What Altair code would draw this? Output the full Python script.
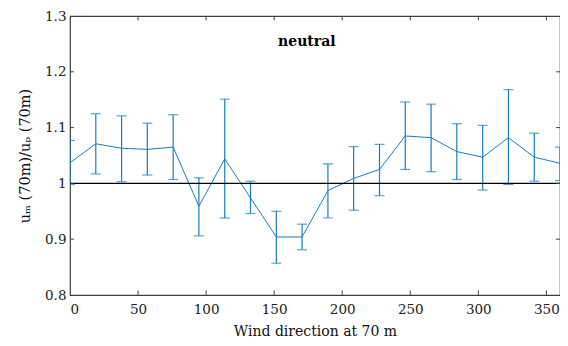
import altair as alt
import pandas as pd

direction = [0, 18.95, 37.9, 56.8, 75.8, 94.7, 113.7, 132.6, 151.6, 170.5,
             189.5, 208.4, 227.4, 246.3, 265.3, 284.2, 303.2, 322.1, 341.1, 360]
ratio = [1.037, 1.071, 1.063, 1.061, 1.065, 0.959, 1.044, 0.974, 0.904, 0.904,
         0.987, 1.009, 1.025, 1.085, 1.082, 1.057, 1.047, 1.082, 1.047, 1.036]
upper = [1.077, 1.125, 1.121, 1.108, 1.123, 1.010, 1.151, 1.004, 0.950, 0.927,
         1.035, 1.066, 1.070, 1.146, 1.142, 1.107, 1.104, 1.168, 1.090, 1.065]
lower = [0.998, 1.017, 1.003, 1.015, 1.007, 0.906, 0.938, 0.946, 0.857, 0.881,
         0.938, 0.952, 0.978, 1.025, 1.021, 1.007, 0.988, 0.998, 1.004, 1.005]
x_ticks = [0, 50, 100, 150, 200, 250, 300, 350]
y_ticks = [0.8, 0.9, 1.0, 1.1, 1.2, 1.3]

df = pd.DataFrame({"dir": direction, "r": ratio, "hi": upper, "lo": lower})

FONT = "DejaVu Serif, Liberation Serif, serif"
BLUE = "#1a7cc4"
AX = "#404040"

xs = alt.Scale(domain=[0, 360], nice=False, zero=False)
ys = alt.Scale(domain=[0.8, 1.3], nice=False, zero=False)

x_enc = alt.X("dir:Q", scale=xs, axis=alt.Axis(
    title="Wind direction at 70 m", values=x_ticks, grid=False, ticks=False,
    domain=False, labelPadding=7, titlePadding=9, format="d"))
y_enc = alt.Y("r:Q", scale=ys, axis=alt.Axis(
    title="uₘ (70m)/uₚ (70m)", values=y_ticks, grid=False, ticks=False,
    domain=False, labelPadding=4, titlePadding=12, titleFontSize=14.5,
    labelExpr="format(datum.value, '.2~f')"))

base = alt.Chart(df)

line = base.mark_line(color=BLUE, strokeWidth=1, clip=True).encode(x=x_enc, y=y_enc)
bars = base.mark_rule(color=BLUE, strokeWidth=1.2, clip=True).encode(
    x="dir:Q", y=alt.Y("lo:Q", scale=ys), y2="hi:Q")
cap_hi = base.mark_tick(color=BLUE, orient="horizontal", size=10, thickness=1.2, clip=True).encode(
    x="dir:Q", y=alt.Y("hi:Q", scale=ys))
cap_lo = base.mark_tick(color=BLUE, orient="horizontal", size=10, thickness=1.2, clip=True).encode(
    x="dir:Q", y=alt.Y("lo:Q", scale=ys))

ref = alt.Chart(pd.DataFrame({"y": [1.0]})).mark_rule(color="black", strokeWidth=1.2).encode(
    y=alt.Y("y:Q", scale=ys))

xt = pd.DataFrame({"t": x_ticks[1:]})
tick_b = alt.Chart(xt).mark_rule(color=AX, strokeWidth=1).encode(
    x=alt.X("t:Q", scale=xs), y=alt.datum(0.8), y2=alt.datum(0.808))
tick_t = alt.Chart(xt).mark_rule(color=AX, strokeWidth=1).encode(
    x=alt.X("t:Q", scale=xs), y=alt.datum(1.3), y2=alt.datum(1.292))
yt = pd.DataFrame({"t": y_ticks[1:-1]})
tick_l = alt.Chart(yt).mark_rule(color=AX, strokeWidth=1).encode(
    y=alt.Y("t:Q", scale=ys), x=alt.datum(0), x2=alt.datum(2.9))
tick_r = alt.Chart(yt).mark_rule(color=AX, strokeWidth=1).encode(
    y=alt.Y("t:Q", scale=ys), x=alt.datum(360), x2=alt.datum(357.1))

label = alt.Chart(pd.DataFrame({"x": [174], "y": [1.253], "txt": ["neutral"]})).mark_text(
    font=FONT, fontSize=14, fontWeight="bold", color="black", align="center", baseline="middle"
).encode(x=alt.X("x:Q", scale=xs), y=alt.Y("y:Q", scale=ys), text="txt:N")

chart = alt.layer(line, bars, cap_hi, cap_lo, ref, tick_b, tick_t, tick_l, tick_r, label).properties(
    width=490, height=279,
    autosize=alt.AutoSizeParams(type="none"),
    padding={"left": 62, "top": 8, "right": 0, "bottom": 43},
    background="white",
).configure_view(stroke=AX, strokeWidth=1.2).configure_axis(
    labelFont=FONT, titleFont=FONT, labelFontSize=13.5, titleFontSize=14,
    labelColor="#222", titleColor="#111", titleFontWeight="normal"
)

chart.save("out.html", embed_options={"renderer": "svg", "actions": False})
